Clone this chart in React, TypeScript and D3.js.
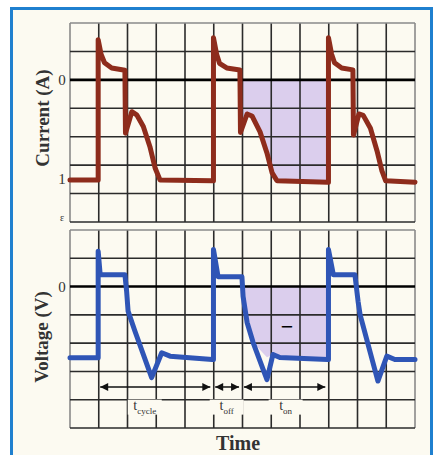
import { useEffect, useRef } from "react";
import * as d3 from "d3";

// time in grid divisions, amplitude in grid divisions (0 = the "0" line)
const currentX = [0, 0.98, 0.98, 1.08, 1.2, 1.45, 1.91, 1.93, 2.15, 2.32, 2.55, 2.78, 2.96, 3.13, 4.95,
  4.99, 4.99, 5.1, 5.2, 5.45, 5.91, 5.93, 6.16, 6.33, 6.61, 6.85, 7.03, 7.2, 8.96,
  8.99, 8.99, 9.1, 9.2, 9.45, 9.84, 9.86, 10.05, 10.2, 10.45, 10.68, 10.85, 10.98, 12];
const currentY = [-3.52, -3.52, 1.41, 0.9, 0.6, 0.42, 0.34, -1.88, -1.12, -1.23, -1.64, -2.35, -3.1, -3.52, -3.55,
  -3.55, 1.48, 0.9, 0.58, 0.42, 0.35, -1.85, -1.2, -1.27, -1.83, -2.57, -3.27, -3.55, -3.6,
  -3.6, 1.48, 0.9, 0.6, 0.42, 0.35, -1.94, -1.2, -1.25, -1.7, -2.5, -3.2, -3.55, -3.6];

const voltageX = [0, 0.98, 0.98, 1.05, 1.91, 1.97, 2.02, 2.26, 2.84, 3.19, 3.48, 4.95,
  4.99, 4.99, 5.15, 5.98, 6.02, 6.16, 6.37, 6.85, 7.06, 7.3, 8.96,
  8.99, 8.99, 9.16, 9.91, 10.02, 10.09, 10.71, 11.02, 11.3, 12];
const voltageY = [-2.52, -2.52, 1.25, 0.42, 0.42, -0.17, -0.87, -1.58, -3.22, -2.34, -2.46, -2.58,
  -2.58, 1.31, 0.35, 0.35, -0.35, -1.27, -1.98, -3.29, -2.4, -2.51, -2.58,
  -2.58, 1.31, 0.42, 0.42, -0.52, -0.99, -3.34, -2.46, -2.58, -2.58];

const shadeStart = [5.9, 5.97];
const shadeEnd = [8.97, 8.97];
const shadeFloor = -2.5;

const currentTickValues = [0, -3.5, -4.85];
const currentTickLabels = ["0", "1", "ε"];
const voltageTickValues = [0];
const voltageTickLabels = ["0"];

const intervalNames = ["cycle", "off", "on"];
const intervalStarts = [1, 5, 6];
const intervalEnds = [5, 6, 9];
const intervalLabelAt = [2.6, 5.45, 7.5];
const arrowLevel = -3.55;

const columns = d3.range(0, 13);
const rows = d3.range(-5, 3);

function App() {
  const svgRef = useRef(null);

  useEffect(() => {
    const svg = d3.select(svgRef.current);
    svg.selectAll("*").remove();

    const x = d3.scaleLinear().domain([0, 12]).range([70, 415]);
    const yTop = d3.scaleLinear().domain([2, -5]).range([23, 222]);
    const yBot = d3.scaleLinear().domain([2, -5]).range([230, 428]);

    // frame
    svg.append("rect").attr("width", 438).attr("height", 455).attr("fill", "#ffffff");
    svg.append("rect")
      .attr("x", 11.5).attr("y", 8.5).attr("width", 420).attr("height", 470)
      .attr("fill", "#fcfaf1").attr("stroke", "#1f80cf").attr("stroke-width", 3);

    const currentPts = currentX.map((d, i) => ({ x: d, y: currentY[i] }));
    const voltagePts = voltageX.map((d, i) => ({ x: d, y: voltageY[i] }));

    // shaded areas
    const topShade = currentPts.filter(p => p.x >= shadeStart[0] && p.x <= shadeEnd[0]);
    svg.append("path")
      .attr("d", d3.area().x(p => x(p.x)).y0(yTop(0)).y1(p => yTop(Math.min(p.y, 0)))(topShade))
      .attr("fill", "#d5c6ec").attr("opacity", 0.85);
    const botShade = voltagePts.filter(p => p.x >= shadeStart[1] && p.x <= shadeEnd[1]);
    svg.append("path")
      .attr("d", d3.area().x(p => x(p.x)).y0(yBot(0)).y1(p => yBot(Math.max(Math.min(p.y, 0), shadeFloor)))(botShade))
      .attr("fill", "#d5c6ec").attr("opacity", 0.85);

    // grids
    [yTop, yBot].forEach((yS) => {
      const g = svg.append("g");
      g.selectAll(".col").data(columns).join("line")
        .attr("x1", d => x(d)).attr("x2", d => x(d))
        .attr("y1", yS(2)).attr("y2", yS(-5))
        .attr("stroke", d => (d === 0 || d === 12 ? "#8a8a8a" : "#2b2b2b"))
        .attr("stroke-width", 1.6);
      g.selectAll(".row").data(rows).join("line")
        .attr("x1", x(0)).attr("x2", x(12))
        .attr("y1", d => yS(d)).attr("y2", d => yS(d))
        .attr("stroke", d => (d === 0 ? "#000" : d === 2 ? "#8a8a8a" : "#2b2b2b"))
        .attr("stroke-width", d => (d === 0 ? 2.6 : 1.6));
    });

    // waveforms
    svg.append("path")
      .attr("d", d3.line().x(p => x(p.x)).y(p => yTop(p.y))(currentPts))
      .attr("fill", "none").attr("stroke", "#8e2c1c").attr("stroke-width", 5)
      .attr("stroke-linejoin", "round").attr("stroke-linecap", "round");
    svg.append("path")
      .attr("d", d3.line().x(p => x(p.x)).y(p => yBot(p.y))(voltagePts))
      .attr("fill", "none").attr("stroke", "#2f55b6").attr("stroke-width", 5)
      .attr("stroke-linejoin", "round").attr("stroke-linecap", "round");

    // minus sign in shaded region
    svg.append("text")
      .attr("x", x(7.55)).attr("y", yBot(-1.42))
      .attr("text-anchor", "middle").attr("dominant-baseline", "central")
      .attr("font-family", "Liberation Serif").attr("font-size", 22).attr("font-weight", "bold")
      .text("−");

    // interval arrows
    const ay = yBot(arrowLevel);
    intervalNames.forEach((name, i) => {
      const x1 = x(intervalStarts[i] + 0.05);
      const x2 = x(intervalEnds[i] - 0.12);
      svg.append("line").attr("x1", x1).attr("x2", x2).attr("y1", ay).attr("y2", ay)
        .attr("stroke", "#111").attr("stroke-width", 1.5);
      svg.append("path").attr("d", `M${x1},${ay}L${x1 + 8},${ay - 4}L${x1 + 8},${ay + 4}Z`).attr("fill", "#111");
      svg.append("path").attr("d", `M${x2},${ay}L${x2 - 8},${ay - 4}L${x2 - 8},${ay + 4}Z`).attr("fill", "#111");

      const lx = x(intervalLabelAt[i]);
      const ly = yBot(-4.35);
      svg.append("rect").attr("x", lx - 17).attr("y", ly - 10).attr("width", 34).attr("height", 15)
        .attr("fill", "#fcfaf1");
      const t = svg.append("text").attr("x", lx).attr("y", ly)
        .attr("text-anchor", "middle").attr("font-family", "Liberation Serif")
        .attr("fill", "#333").attr("font-size", 14);
      t.append("tspan").text("t");
      t.append("tspan").attr("dy", 4).attr("font-size", 9).text(name);
    });

    // tick labels
    currentTickValues.forEach((v, i) => {
      svg.append("text").attr("x", 62).attr("y", yTop(v))
        .attr("text-anchor", "middle").attr("dominant-baseline", "central")
        .attr("font-family", "Liberation Serif").attr("fill", "#333")
        .attr("font-size", i === 2 ? 10 : 15).text(currentTickLabels[i]);
    });
    voltageTickValues.forEach((v, i) => {
      svg.append("text").attr("x", 62).attr("y", yBot(v))
        .attr("text-anchor", "middle").attr("dominant-baseline", "central")
        .attr("font-family", "Liberation Serif").attr("fill", "#333")
        .attr("font-size", 15).text(voltageTickLabels[i]);
    });

    // axis titles
    svg.append("text").attr("transform", "translate(42,118) rotate(-90)")
      .attr("text-anchor", "middle").attr("dominant-baseline", "central")
      .attr("font-family", "Liberation Serif").attr("font-weight", "bold")
      .attr("font-size", 19).attr("fill", "#333").text("Current (A)");
    svg.append("text").attr("transform", "translate(41,337) rotate(-90)")
      .attr("text-anchor", "middle").attr("dominant-baseline", "central")
      .attr("font-family", "Liberation Serif").attr("font-weight", "bold")
      .attr("font-size", 19).attr("fill", "#333").text("Voltage (V)");
    svg.append("text").attr("x", 238).attr("y", 443)
      .attr("text-anchor", "middle").attr("dominant-baseline", "central")
      .attr("font-family", "Liberation Serif").attr("font-weight", "bold")
      .attr("font-size", 20).attr("fill", "#333").text("Time");
  }, []);

  return (
    <svg ref={svgRef} width={438} height={455}
      style={{ position: "absolute", left: 0, top: 0, display: "block" }} />
  );
}

export default App;
